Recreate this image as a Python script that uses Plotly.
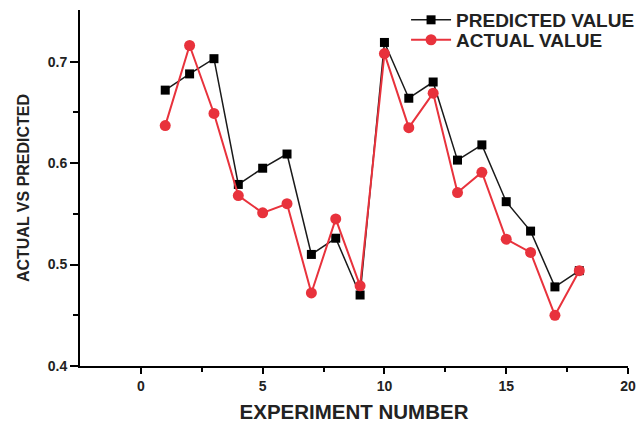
import plotly.graph_objects as go

experiment = list(range(1, 19))
predicted = [0.672, 0.688, 0.703, 0.579, 0.595, 0.609, 0.510, 0.526, 0.470,
             0.719, 0.664, 0.680, 0.603, 0.618, 0.562, 0.533, 0.478, 0.494]
actual = [0.637, 0.716, 0.649, 0.568, 0.551, 0.560, 0.472, 0.545, 0.479,
          0.708, 0.635, 0.669, 0.571, 0.591, 0.525, 0.512, 0.450, 0.494]

font_family = "Liberation Sans, Arial, sans-serif"

fig = go.Figure()
fig.add_trace(go.Scatter(
    x=experiment, y=predicted, mode="lines+markers", name="PREDICTED VALUE",
    line=dict(color="#1a1a1a", width=1.5),
    marker=dict(symbol="square", size=9, color="black"),
    legend="legend",
))
fig.add_trace(go.Scatter(
    x=experiment, y=actual, mode="lines+markers", name="ACTUAL VALUE",
    line=dict(color="#e8323c", width=2),
    marker=dict(symbol="circle", size=11, color="#e8323c"),
    legend="legend2",
))

legend_style = dict(xanchor="left", yanchor="middle", bgcolor="rgba(0,0,0,0)",
                    font=dict(size=19, family=font_family, weight="bold"), itemwidth=40)

fig.update_layout(
    width=641, height=424,
    margin=dict(l=80, r=13, t=10, b=58, autoexpand=False),
    plot_bgcolor="white", paper_bgcolor="white",
    font=dict(family=font_family, color="#222"),
    showlegend=True,
    legend=dict(x=0.595, y=0.972, **legend_style),
    legend2=dict(x=0.595, y=0.916, **legend_style),
)
fig.update_xaxes(
    range=[-2.5, 20], tickvals=[0, 5, 10, 15, 20], automargin=False,
    showgrid=False, zeroline=False, showline=True, linecolor="black", linewidth=2,
    ticks="outside", ticklen=6, tickwidth=2, tickcolor="black",
    minor=dict(tickvals=[2.5, 7.5, 12.5, 17.5], ticks="outside", ticklen=4, tickwidth=2, tickcolor="black"),
    tickfont=dict(size=14, family=font_family, weight="bold"),
    title=dict(text="EXPERIMENT NUMBER", font=dict(size=20.5, family=font_family, weight="bold"), standoff=12),
)
fig.update_yaxes(
    range=[0.4, 0.751], tickvals=[0.4, 0.5, 0.6, 0.7], ticktext=["0.4", "0.5", "0.6", "0.7"],
    automargin=False,
    showgrid=False, zeroline=False, showline=True, linecolor="black", linewidth=2,
    ticks="outside", ticklen=8, tickwidth=2, tickcolor="black",
    minor=dict(tickvals=[0.45, 0.55, 0.65], ticks="outside", ticklen=5, tickwidth=2, tickcolor="black"),
    tickfont=dict(size=14, family=font_family, weight="bold"),
    title=dict(text="ACTUAL VS PREDICTED", font=dict(size=16, family=font_family, weight="bold"), standoff=14),
)

# Remove the page's default 8px body margin so the figure fills the window exactly.
fig.write_html("out.html", config={"displayModeBar": False},
               post_script="document.body.style.margin='0';")
